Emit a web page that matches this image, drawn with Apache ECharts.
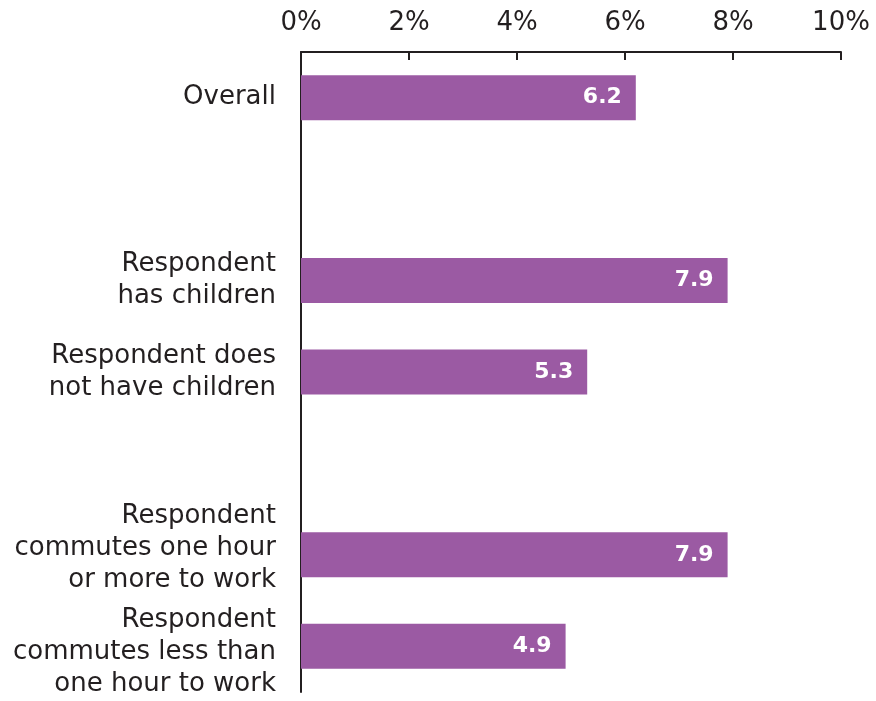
<!DOCTYPE html>
<html>
<head>
<meta charset="utf-8">
<script src="https://cdn.jsdelivr.net/npm/echarts@6/dist/echarts.min.js"></script>
<style>
  html, body { margin: 0; padding: 0; background: #fff; }
  #chart { width: 876px; height: 701px; }
</style>
</head>
<body>
<div id="chart"></div>
<script>
// empty strings are spacer rows between groups
const categories = [
  "Overall",
  "",
  "Respondent\nhas children",
  "Respondent does\nnot have children",
  "",
  "Respondent\ncommutes one hour\nor more to work",
  "Respondent\ncommutes less than\none hour to work",
];
const values = [6.2, null, 7.9, 5.3, null, 7.9, 4.9];
const xTicks = [0, 2, 4, 6, 8, 10];

const textColor = "#231f20";
const barColor = "#9b5aa3";

const chart = echarts.init(document.getElementById("chart"));
chart.setOption({
  animation: false,
  textStyle: { fontFamily: "DejaVu Sans" },
  grid: {
    left: 301,
    right: 35,
    top: 52,
    bottom: 9,
  },
  xAxis: {
    type: "value",
    position: "top",
    min: xTicks[0],
    max: xTicks[xTicks.length - 1],
    interval: 2,
    axisLine: { show: true, lineStyle: { color: textColor, width: 2 } },
    axisTick: { show: true, inside: true, length: 8, lineStyle: { color: textColor, width: 2 } },
    splitLine: { show: false },
    axisLabel: {
      formatter: "{value}%",
      fontSize: 26,
      color: textColor,
      margin: 16,
    },
  },
  yAxis: {
    type: "category",
    inverse: true,
    data: categories,
    axisLine: { show: true, lineStyle: { color: textColor, width: 2 } },
    axisTick: { show: false },
    axisLabel: {
      interval: 0,
      hideOverlap: false,
      fontSize: 26,
      lineHeight: 32,
      color: textColor,
      align: "right",
      margin: 25,
      // nudge the two 3-line labels apart with a short spacer line
      formatter: (v, i) => {
        if (i === 5) return v + "\n{gapB| }";
        if (i === 6) return "{gapT| }\n" + v;
        return v;
      },
      rich: {
        gapB: { lineHeight: 14, fontSize: 10 },
        gapT: { lineHeight: 12, fontSize: 10 },
      },
    },
  },
  series: [
    {
      type: "bar",
      data: values,
      barWidth: 45,
      itemStyle: { color: barColor },
      label: {
        show: true,
        position: "insideRight",
        distance: 14,
        color: "#fff",
        fontSize: 22,
        fontWeight: "bold",
        formatter: (p) => p.value.toFixed(1),
      },
    },
  ],
});
</script>
</body>
</html>
